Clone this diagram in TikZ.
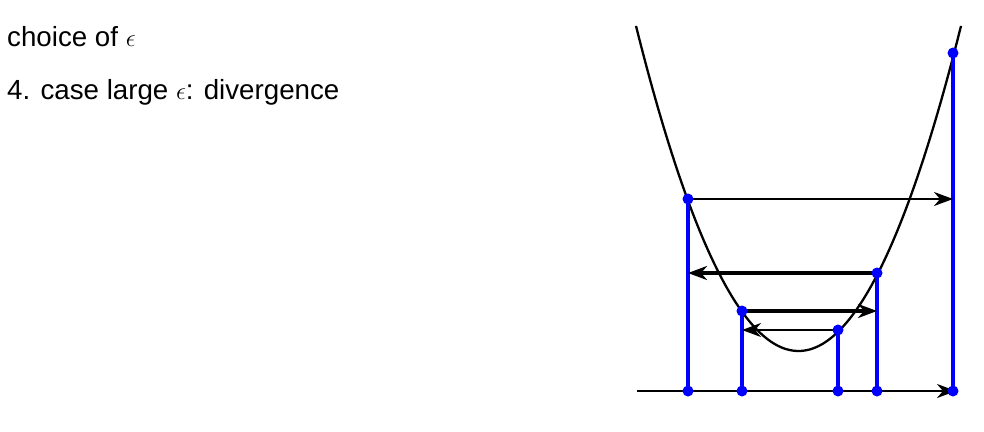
\documentclass[tikz,border=0pt]{standalone}
\usepackage{fontspec}
\setmainfont{Liberation Sans}
\usetikzlibrary{arrows.meta}
\begin{document}
\begin{tikzpicture}[x=1pt,y=-1pt,
  lbl/.style={anchor=base west,inner sep=0pt,font=\fontsize{27.7}{33}\selectfont},
  curve/.style={draw=black,line width=2.3pt},
  stem/.style={draw=blue,line width=4pt},
  dot/.style={fill=blue},
  arr/.style={draw=black,line width=2.3pt,-{Stealth[length=19pt,width=14pt,inset=6pt]}},
  arrthick/.style={arr,line width=3.3pt}]
\useasboundingbox (0,0) rectangle (984,431);
\node[lbl] (t1) at (7,46) {choice of $\epsilon$};
\node[lbl] (t2) at (7,99) {4. case large $\epsilon$: divergence};
% parabola
\draw[curve] plot[domain=636:961,samples=100] (\x,{351-(0.11095*(\x-798.5))^2});
% points on the curve
\coordinate (p0) at (688,199);
\coordinate (p1) at (877,273);
\coordinate (p2) at (742,311);
\coordinate (p3) at (838,330);
\coordinate (p4) at (953,53);
% points on the axis
\coordinate (a0) at (688,391);
\coordinate (a1) at (877,391);
\coordinate (a2) at (742,391);
\coordinate (a3) at (838,391);
\coordinate (a4) at (953,391);
\coordinate (axs) at (637,391);
\coordinate (axe) at (956,391);
% horizontal targets
\coordinate (h0) at (p4 |- p0);
\coordinate (h1) at (p0 |- p1);
\coordinate (h2) at (p1 |- p2);
\coordinate (h3) at (p2 |- p3);
% stems
\foreach \i in {0,...,4} {\draw[stem] (p\i) -- (a\i);}
% arrows
\draw[arr] (p0) -- (h0);
\draw[arrthick] (p1) -- (h1);
\draw[arrthick] (p2) -- (h2);
\draw[arr] (p3) -- (h3);
\draw[arr] (axs) -- (axe);
% dots
\foreach \i in {0,...,4} {\fill[dot] (p\i) circle (5.5pt); \fill[dot] (a\i) circle (5.5pt);}
\end{tikzpicture}
\end{document}
